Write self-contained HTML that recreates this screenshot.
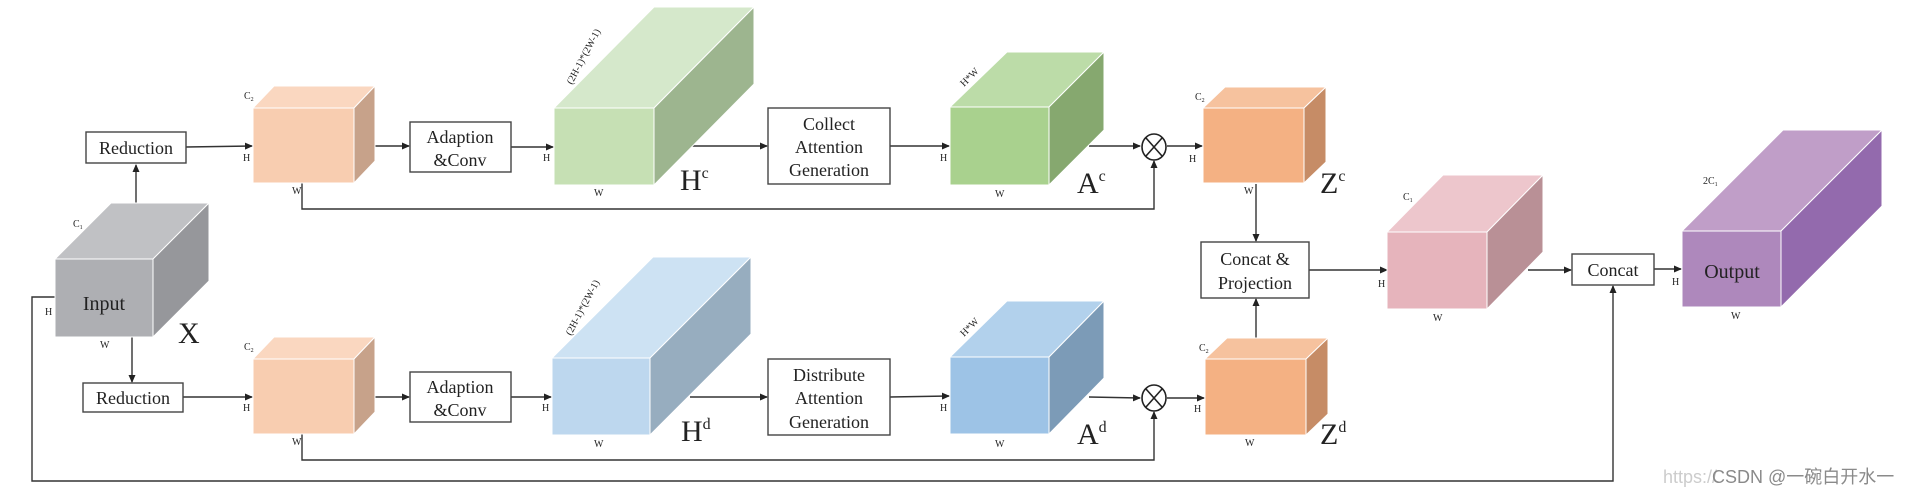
<!DOCTYPE html>
<html><head><meta charset="utf-8"><style>
html,body{margin:0;padding:0;background:#fff;}
svg{display:block;}
text{font-family:"Liberation Serif",serif;fill:#222;}
.s{font-size:10px;}
.b{font-size:18px;}
.L{font-size:30px;}
.ln{stroke:#333;stroke-width:1.4;fill:none;}
.bx{fill:#fff;stroke:#444;stroke-width:1.4;}
</style></head><body>
<svg width="1917" height="494" viewBox="0 0 1917 494" xmlns="http://www.w3.org/2000/svg">
<defs>
<marker id="a" markerWidth="8" markerHeight="8" refX="7" refY="4" orient="auto" markerUnits="userSpaceOnUse">
<path d="M0,0.5 L8,4 L0,7.5 Z" fill="#222"/></marker>
</defs>

<g class="ln">
<line x1="136" y1="203" x2="136" y2="165" marker-end="url(#a)"/>
<line x1="132" y1="337" x2="132" y2="382" marker-end="url(#a)"/>
<line x1="186" y1="147" x2="252" y2="146" marker-end="url(#a)"/>
<line x1="183" y1="397" x2="252" y2="397" marker-end="url(#a)"/>
<line x1="375" y1="146" x2="409" y2="146" marker-end="url(#a)"/>
<line x1="375" y1="397" x2="409" y2="397" marker-end="url(#a)"/>
<line x1="511" y1="147" x2="553" y2="147" marker-end="url(#a)"/>
<line x1="511" y1="397" x2="551" y2="397" marker-end="url(#a)"/>
<line x1="692" y1="146" x2="767" y2="146" marker-end="url(#a)"/>
<line x1="690" y1="397" x2="767" y2="397" marker-end="url(#a)"/>
<line x1="890" y1="146" x2="949" y2="146" marker-end="url(#a)"/>
<line x1="890" y1="397" x2="949" y2="396" marker-end="url(#a)"/>
<line x1="1089" y1="146" x2="1140" y2="146" marker-end="url(#a)"/>
<line x1="1089" y1="397" x2="1140" y2="398" marker-end="url(#a)"/>
<line x1="1167" y1="146" x2="1202" y2="146" marker-end="url(#a)"/>
<line x1="1167" y1="398" x2="1204" y2="398" marker-end="url(#a)"/>
<polyline points="302,183 302,209 1154,209 1154,161" marker-end="url(#a)"/>
<polyline points="302,434 302,460 1154,460 1154,412" marker-end="url(#a)"/>
<line x1="1256" y1="184" x2="1256" y2="241" marker-end="url(#a)"/>
<line x1="1256" y1="338" x2="1256" y2="299" marker-end="url(#a)"/>
<line x1="1309" y1="270" x2="1387" y2="270" marker-end="url(#a)"/>
<line x1="1528" y1="270" x2="1571" y2="270" marker-end="url(#a)"/>
<line x1="1654" y1="269" x2="1681" y2="269" marker-end="url(#a)"/>
<polyline points="55,297 32,297 32,481 1613,481 1613,286" marker-end="url(#a)"/>
</g>

<g stroke="#222" stroke-width="1.6" fill="#fff">
<ellipse cx="1154" cy="147" rx="12" ry="13"/>
<line x1="1146" y1="138" x2="1162" y2="156"/><line x1="1162" y1="138" x2="1146" y2="156"/>
<ellipse cx="1154" cy="398" rx="12" ry="13"/>
<line x1="1146" y1="389" x2="1162" y2="407"/><line x1="1162" y1="389" x2="1146" y2="407"/>
</g>

<g stroke="#fff" stroke-width="1">
<polygon points="55,259 111,203 209,203 153,259" fill="#c0c1c4"/>
<polygon points="153,259 209,203 209,281 153,337" fill="#96979b"/>
<rect x="55" y="259" width="98" height="78" fill="#aeafb3"/>
<polygon points="253,108 274,86 375,86 354,108" fill="#fad7c0"/>
<polygon points="354,108 375,86 375,161 354,183" fill="#c7a28a"/>
<rect x="253" y="108" width="101" height="75" fill="#f8cdb0"/>
<polygon points="253,359 274,337 375,337 354,359" fill="#fad7c0"/>
<polygon points="354,359 375,337 375,412 354,434" fill="#c7a28a"/>
<rect x="253" y="359" width="101" height="75" fill="#f8cdb0"/>
<polygon points="554,108 654,7 754,7 654,108" fill="#d5e8cb"/>
<polygon points="654,108 754,7 754,84 654,185" fill="#9db58f"/>
<rect x="554" y="108" width="100" height="77" fill="#c6e0b4"/>
<polygon points="552,358 653,257 751,257 650,358" fill="#cde2f3"/>
<polygon points="650,358 751,257 751,334 650,435" fill="#97adbf"/>
<rect x="552" y="358" width="98" height="77" fill="#bdd7ee"/>
<polygon points="950,107 1007,52 1104,52 1049,107" fill="#bcdca8"/>
<polygon points="1049,107 1104,52 1104,130 1049,185" fill="#86a86f"/>
<rect x="950" y="107" width="99" height="78" fill="#a9d18e"/>
<polygon points="950,357 1007,301 1104,301 1049,357" fill="#b2d1ec"/>
<polygon points="1049,357 1104,301 1104,378 1049,434" fill="#7c9bb7"/>
<rect x="950" y="357" width="99" height="77" fill="#9dc3e6"/>
<polygon points="1203,108 1225,87 1326,87 1304,108" fill="#f6c29e"/>
<polygon points="1304,108 1326,87 1326,162 1304,183" fill="#c68c66"/>
<rect x="1203" y="108" width="101" height="75" fill="#f4b183"/>
<polygon points="1205,359 1227,338 1328,338 1306,359" fill="#f6c29e"/>
<polygon points="1306,359 1328,338 1328,414 1306,435" fill="#c68c66"/>
<rect x="1205" y="359" width="101" height="76" fill="#f4b183"/>
<polygon points="1387,232 1443,175 1543,175 1487,232" fill="#edc6cc"/>
<polygon points="1487,232 1543,175 1543,252 1487,309" fill="#b99096"/>
<rect x="1387" y="232" width="100" height="77" fill="#e6b4bc"/>
<polygon points="1682,231 1783,130 1882,130 1781,231" fill="#c09ec8"/>
<polygon points="1781,231 1882,130 1882,206 1781,307" fill="#936aad"/>
<rect x="1682" y="231" width="99" height="76" fill="#ae88bc"/>
</g>

<rect class="bx" x="86" y="132" width="100" height="31"/>
<text class="b" x="136" y="154" text-anchor="middle">Reduction</text>
<rect class="bx" x="83" y="383" width="100" height="29"/>
<text class="b" x="133" y="404" text-anchor="middle">Reduction</text>
<rect class="bx" x="410" y="122" width="101" height="50"/>
<text class="b" x="460" y="143" text-anchor="middle">Adaption</text>
<text class="b" x="460" y="166" text-anchor="middle">&amp;Conv</text>
<rect class="bx" x="410" y="372" width="101" height="50"/>
<text class="b" x="460" y="393" text-anchor="middle">Adaption</text>
<text class="b" x="460" y="416" text-anchor="middle">&amp;Conv</text>
<rect class="bx" x="768" y="108" width="122" height="76"/>
<text class="b" x="829" y="130" text-anchor="middle">Collect</text>
<text class="b" x="829" y="153" text-anchor="middle">Attention</text>
<text class="b" x="829" y="176" text-anchor="middle">Generation</text>
<rect class="bx" x="768" y="359" width="122" height="76"/>
<text class="b" x="829" y="381" text-anchor="middle">Distribute</text>
<text class="b" x="829" y="404" text-anchor="middle">Attention</text>
<text class="b" x="829" y="428" text-anchor="middle">Generation</text>
<rect class="bx" x="1201" y="242" width="108" height="56"/>
<text class="b" x="1255" y="265" text-anchor="middle">Concat &amp;</text>
<text class="b" x="1255" y="289" text-anchor="middle">Projection</text>
<rect class="bx" x="1572" y="254" width="82" height="31"/>
<text class="b" x="1613" y="276" text-anchor="middle">Concat</text>

<text x="104" y="310" text-anchor="middle" style="font-size:20px">Input</text>
<text x="1732" y="278" text-anchor="middle" style="font-size:20px">Output</text>

<g class="s">
<text x="73" y="227">C<tspan font-size="6" dy="2">1</tspan></text>
<text x="45" y="315">H</text>
<text x="100" y="348">W</text>
<text x="244" y="99">C<tspan font-size="6" dy="2">2</tspan></text>
<text x="243" y="161">H</text>
<text x="292" y="194">W</text>
<text x="244" y="350">C<tspan font-size="6" dy="2">2</tspan></text>
<text x="243" y="411">H</text>
<text x="292" y="445">W</text>
<text x="543" y="161">H</text>
<text x="594" y="196">W</text>
<text x="542" y="411">H</text>
<text x="594" y="447">W</text>
<text x="940" y="161">H</text>
<text x="995" y="197">W</text>
<text x="940" y="411">H</text>
<text x="995" y="447">W</text>
<text x="1195" y="100">C<tspan font-size="6" dy="2">2</tspan></text>
<text x="1189" y="162">H</text>
<text x="1244" y="194">W</text>
<text x="1199" y="351">C<tspan font-size="6" dy="2">2</tspan></text>
<text x="1194" y="412">H</text>
<text x="1245" y="446">W</text>
<text x="1403" y="200">C<tspan font-size="6" dy="2">1</tspan></text>
<text x="1378" y="287">H</text>
<text x="1433" y="321">W</text>
<text x="1703" y="184">2C<tspan font-size="6" dy="2">1</tspan></text>
<text x="1672" y="285">H</text>
<text x="1731" y="319">W</text>
<text transform="translate(572,85) rotate(-62)">(2H-1)*(2W-1)</text>
<text transform="translate(571,336) rotate(-62)">(2H-1)*(2W-1)</text>
<text transform="translate(964,87) rotate(-45)">H*W</text>
<text transform="translate(964,337) rotate(-45)">H*W</text>
</g>

<g class="L">
<text x="178" y="343">X</text>
<text x="680" y="190">H<tspan font-size="16" dy="-12">c</tspan></text>
<text x="681" y="441">H<tspan font-size="16" dy="-12">d</tspan></text>
<text x="1077" y="193">A<tspan font-size="16" dy="-12">c</tspan></text>
<text x="1077" y="444">A<tspan font-size="16" dy="-12">d</tspan></text>
<text x="1320" y="193">Z<tspan font-size="16" dy="-12">c</tspan></text>
<text x="1320" y="444">Z<tspan font-size="16" dy="-12">d</tspan></text>
</g>

<text x="1663" y="483" style="font-family:'Liberation Sans','Noto Sans CJK SC',sans-serif;font-size:18px;fill:#ccc">https://</text>
<text x="1712" y="483" style="font-family:'Liberation Sans','Noto Sans CJK SC',sans-serif;font-size:18px;fill:#8a8a8a">CSDN @一碗白开水一</text>
</svg>
</body></html>
